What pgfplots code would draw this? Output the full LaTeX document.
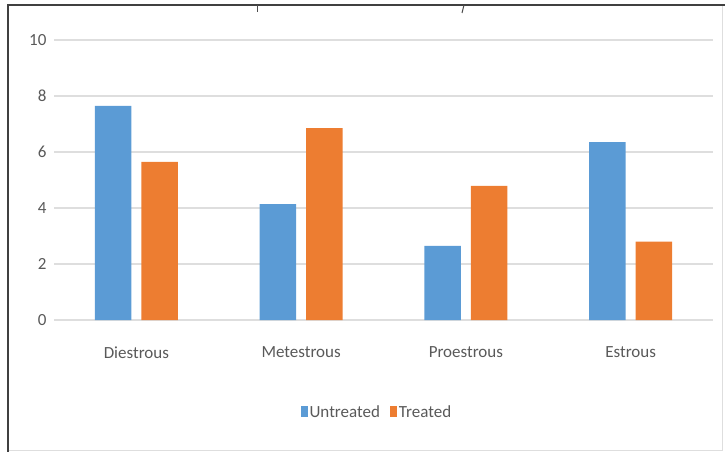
\documentclass[border=0pt]{standalone}
\usepackage{pgfplots}
\pgfplotsset{compat=1.18}
\usepackage{fontspec}
\setmainfont{Carlito}
\definecolor{untr}{HTML}{5B9BD5}
\definecolor{trt}{HTML}{ED7D31}
\definecolor{txt}{HTML}{595959}
\definecolor{grd}{HTML}{DEDEDE}
\begin{document}
\begin{tikzpicture}
\useasboundingbox (0,0) rectangle (725bp,-452bp);
% frame
\draw[grd, line width=1bp] (722bp,-5bp) -- (722bp,-450bp) -- (8bp,-450bp);
\draw[black!75, line width=1.3bp] (8bp,-452bp) -- (8bp,-5bp) -- (725bp,-5bp);
% clipped remains of title
\draw[black!70, line width=1bp] (257bp,-5bp) -- (257bp,-12bp);
\draw[black!70, line width=1bp] (464bp,-5bp) -- (462bp,-13bp);
\begin{axis}[
  at={(54bp,-320bp)}, anchor=south west,
  scale only axis, width=659bp, height=280bp,
  ybar=10bp, bar width=36.5bp,
  xmin=-0.5, xmax=3.5, ymin=0, ymax=10,
  xtick={0,1,2,3},
  xticklabels={Diestrous,Metestrous,Proestrous,Estrous},
  ytick={0,2,4,6,8,10},
  ymajorgrids, grid style={grd, line width=1.1bp},
  axis line style={draw=none},
  major tick length=0pt,
  tick label style={font=\fontsize{17bp}{19bp}\selectfont, text=txt},
  /pgf/number format/assume math mode=true,
  xticklabel style={yshift=-23bp},
  yticklabel style={xshift=-4bp},
  legend style={at={(0.49,-0.33)}, anchor=center, draw=none, fill=none,
    legend columns=2, font=\fontsize{17bp}{19bp}\selectfont, text=txt,
    /tikz/every even column/.append style={column sep=8bp}},
  legend image code/.code={\fill[#1] (0bp,-5bp) rectangle (7bp,6bp);},
]
\addplot[fill=untr, draw=none] coordinates {(0,7.65) (1,4.14) (2,2.65) (3,6.35)};
\addplot[fill=trt, draw=none] coordinates {(0,5.65) (1,6.85) (2,4.79) (3,2.80)};
\legend{Untreated,Treated}
\end{axis}
\end{tikzpicture}
\end{document}
